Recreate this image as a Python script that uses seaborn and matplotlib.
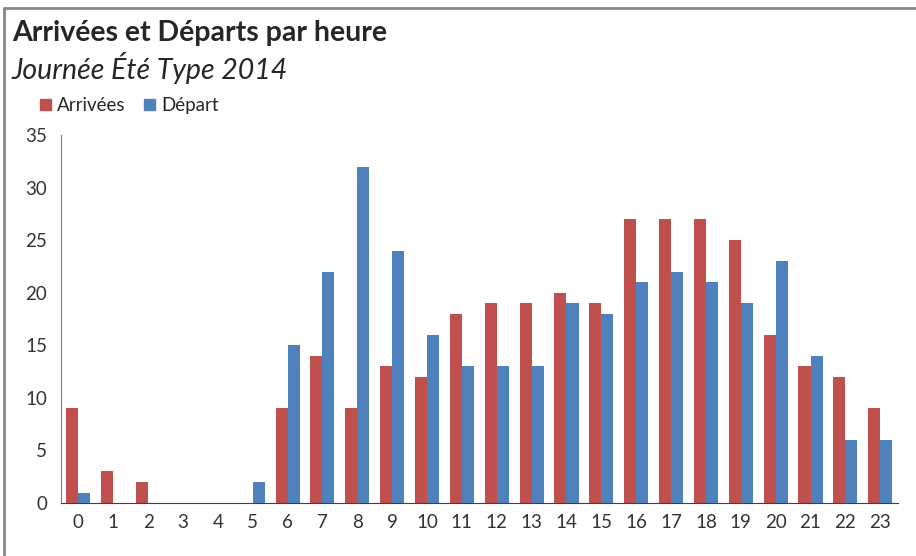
import pandas as pd
import seaborn as sns
import matplotlib.pyplot as plt
from matplotlib.lines import Line2D
from matplotlib.patches import Patch

# hourly counts
heures = list(range(24))
arrivees = [9, 3, 2, 0, 0, 0, 9, 14, 9, 13, 12, 18, 19, 19, 20, 19, 27, 27, 27, 25, 16, 13, 12, 9]
departs = [1, 0, 0, 0, 0, 2, 15, 22, 32, 24, 16, 13, 13, 13, 19, 18, 21, 22, 21, 19, 23, 14, 6, 6]
series = ['Arrivées', 'Départ']
couleurs = ['#C0504D', '#4F81BD']

df = pd.DataFrame({
    'Heure': heures * 2,
    'Nombre': arrivees + departs,
    'Type': [series[0]] * 24 + [series[1]] * 24,
})

sns.set_style("white")
plt.rcParams['font.family'] = ['Lato', 'DejaVu Sans']

fig = plt.figure(figsize=(9.16, 5.56), dpi=100)
ax = fig.add_axes([0.0666, 0.0953, 0.9134, 0.6617])

sns.barplot(data=df, x='Heure', y='Nombre', hue='Type', palette=couleurs,
            width=0.69, saturation=1, ax=ax, legend=False, linewidth=0)

ax.set_ylim(0, 35)
ax.set_yticks(range(0, 36, 5))
ax.set_xlim(-0.5, 23.5)
ax.set_xlabel('')
ax.set_ylabel('')
for s in ['top', 'right']:
    ax.spines[s].set_visible(False)
ax.spines['left'].set_color('#808080')
ax.spines['bottom'].set_color('#404040')
ax.tick_params(axis='y', direction='in', length=6, color='#808080', labelsize=13.5, pad=10, labelcolor='#333333')
ax.tick_params(axis='x', length=0, labelsize=13.5, pad=8, labelcolor='#333333')

fig.text(0.013, 0.94, 'Arrivées et Départs par heure', fontsize=20.5, fontweight='bold', va='center')
fig.text(0.013, 0.877, 'Journée Été Type 2014', fontsize=20.5, style='italic', va='center')

handles = [Patch(color=c, label=l) for c, l in zip(couleurs, series)]
fig.legend(handles=handles, loc='center left', bbox_to_anchor=(0.025, 0.81), ncol=2,
           frameon=False, fontsize=13.5, handlelength=0.6, handleheight=0.6,
           handletextpad=0.3, columnspacing=1.0)

# outer chart border (top and left visible)
fig.add_artist(Line2D([0.004, 0.004], [0, 0.986], color='#888888', lw=2, transform=fig.transFigure))
fig.add_artist(Line2D([0.004, 1], [0.986, 0.986], color='#888888', lw=2, transform=fig.transFigure))

fig.savefig('out.png', dpi=100)
